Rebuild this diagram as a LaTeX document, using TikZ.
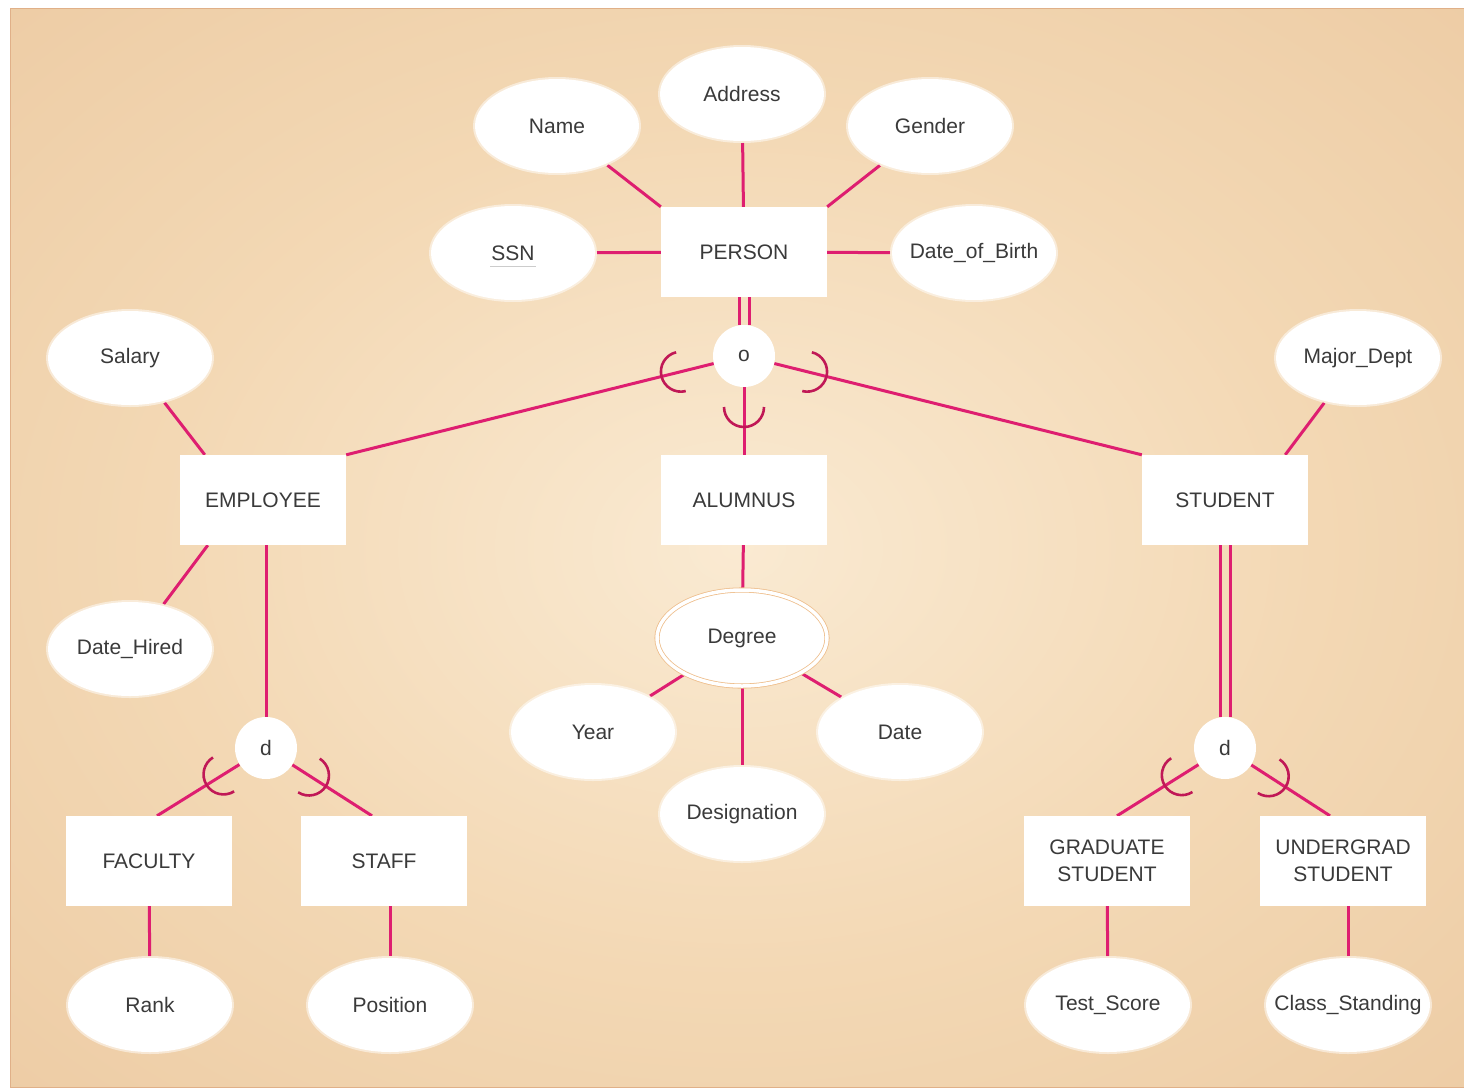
\documentclass[tikz,border=0pt]{standalone}
\usepackage{fontspec}
\setmainfont{Liberation Sans}
\usetikzlibrary{calc,shapes.geometric}

\definecolor{linkpink}{RGB}{222,30,112}
\definecolor{arcred}{RGB}{192,24,86}
\definecolor{inkgray}{RGB}{58,58,58}
\definecolor{bgcenter}{RGB}{250,234,210}
\definecolor{bgmid}{RGB}{243,216,180}
\definecolor{bgedge}{RGB}{232,194,152}
\definecolor{panelrim}{RGB}{224,176,136}
\definecolor{degline}{RGB}{238,190,140}

\pgfdeclareradialshading{panelshade}{\pgfpoint{0bp}{0bp}}{%
  color(0bp)=(bgcenter); color(20bp)=(bgmid); color(50bp)=(bgedge); color(60bp)=(bgedge)}

\pgfdeclarelayer{panel}
\pgfdeclarelayer{links}
\pgfsetlayers{panel,links,main}

\tikzset{
  entity/.style={rectangle, fill=white, minimum width=166pt, minimum height=90pt,
    inner sep=0pt, text=inkgray, align=center},
  % attribute ovals keep a fixed size, long names may reach the rim
  attr/.style={ellipse, fill=white, draw=white, draw opacity=0.5, line width=4pt,
    minimum width=164pt, minimum height=94pt, inner sep=0pt, text=inkgray,
    execute at begin node={\hbox to 0pt\bgroup\hss},
    execute at end node={\hss\egroup}},
  multiattr/.style={ellipse, fill=white, draw=degline, line width=0.8pt,
    double=white, double distance=3.5pt, minimum width=170pt, minimum height=96pt,
    inner sep=0pt, text=inkgray,
    execute at begin node={\hbox to 0pt\bgroup\hss},
    execute at end node={\hss\egroup}},
  junction/.style={circle, fill=white, minimum size=62pt, inner sep=0pt, text=inkgray},
  conn/.style={draw=linkpink, line width=3pt},
  subarc/.style={draw=arcred, line width=2.6pt},
  keyline/.style={draw=gray!40, line width=0.7pt},
}

% subset half-circle on a link: junction, far end of the link, distance from junction centre
\newcommand\subsetmark[3]{%
  \draw[subarc] let \p1=($(#2)-(#1)$), \n1={atan2(\y1,\x1)} in
    ($(#1)!#3!(#2)$) ++(\n1+90:20pt) arc[start angle=\n1+90, end angle=\n1-90, radius=20pt];}

\begin{document}
\begin{tikzpicture}[x=1pt, y=-1pt, font=\fontsize{21}{27}\selectfont]
\useasboundingbox (0,0) rectangle (1464,1090);

% backdrop
\begin{pgfonlayer}{panel}
  \fill[white] (0,0) rectangle (1464,1090);
  \shade[shading=panelshade, draw=panelrim, line width=1pt] (10,8) rectangle (1464,1087);
\end{pgfonlayer}

% PERSON and its attributes
\node[entity] (person) at (744,252) {PERSON};
\node[attr] (name) at (557,126) {Name};
\node[attr] (address) at (742,94) {Address};
\node[attr] (gender) at (930,126) {Gender};
\node[attr] (ssn) at (513,253) {SSN};
\node[attr] (dob) at (974,253) {Date\_of\_Birth};
\draw[keyline] ([xshift=-23pt,yshift=-13pt]ssn.center) -- ([xshift=23pt,yshift=-13pt]ssn.center);

% overlapping specialization
\node[junction] (o) at (744,356) {o};

\node[entity] (employee) at (263,500) {EMPLOYEE};
\node[entity] (alumnus) at (744,500) {ALUMNUS};
\node[entity] (student) at (1225,500) {STUDENT};

\node[attr] (salary) at (130,358) {Salary};
\node[attr] (major) at (1358,358) {Major\_Dept};
\node[attr] (hired) at (130,649) {Date\_Hired};

% multivalued composite attribute
\node[multiattr] (degree) at (742,638) {Degree};
\node[attr] (year) at (593,732) {Year};
\node[attr] (date) at (900,732) {Date};
\node[attr] (designation) at (742,814) {Designation};

% disjoint specializations
\node[junction] (dl) at (266,748) {d};
\node[junction] (dr) at (1225,748) {d};

\node[entity] (faculty) at (149,861) {FACULTY};
\node[entity] (staff) at (384,861) {STAFF};
\node[entity] (grad) at (1107,861) {GRADUATE\\STUDENT};
\node[entity] (ugrad) at (1343,861) {UNDERGRAD\\STUDENT};

\node[attr] (rank) at (150,1005) {Rank};
\node[attr] (position) at (390,1005) {Position};
\node[attr] (test) at (1108,1005) {Test\_Score};
\node[attr] (class) at (1348,1005) {Class\_Standing};

% link end points on entity edges
\coordinate (salaryin) at ([xshift=25pt]employee.north west);
\coordinate (hiredin) at ([xshift=28pt]employee.south west);
\coordinate (majorin) at ([xshift=-23pt]student.north east);
\coordinate (facin) at ([xshift=8pt]faculty.north);
\coordinate (staffin) at ([xshift=-12pt]staff.north);
\coordinate (gradin) at ([xshift=10pt]grad.north);
\coordinate (ugradin) at ([xshift=-13pt]ugrad.north);

\begin{pgfonlayer}{links}
  \draw[conn] (name) -- (person.north west);
  \draw[conn] (address) -- (person);
  \draw[conn] (gender) -- (person.north east);
  \draw[conn] (ssn) -- (person);
  \draw[conn] (dob) -- (person);

  \draw[conn] ([xshift=-5pt]person.south) -- ([xshift=-5pt]o.north);
  \draw[conn] ([xshift=5pt]person.south) -- ([xshift=5pt]o.north);
  \draw[conn] (o) -- (employee.north east);
  \draw[conn] (o) -- (alumnus);
  \draw[conn] (o) -- (student.north west);

  \draw[conn] (salary) -- (salaryin);
  \draw[conn] (hired) -- (hiredin);
  \draw[conn] (major) -- (majorin);

  \draw[conn] (alumnus) -- (degree);
  \draw[conn] (degree) -- (year);
  \draw[conn] (degree) -- (date);
  \draw[conn] (degree) -- (designation);

  \draw[conn] (employee.south -| dl) -- (dl);
  \draw[conn] ([xshift=-5pt]student.south) -- ([xshift=-5pt]dr.north);
  \draw[conn] ([xshift=5pt]student.south) -- ([xshift=5pt]dr.north);

  \draw[conn] (dl) -- (facin);
  \draw[conn] (dl) -- (staffin);
  \draw[conn] (dr) -- (gradin);
  \draw[conn] (dr) -- (ugradin);

  \draw[conn] (faculty) -- (rank);
  \draw[conn] (position.north |- staff.south) -- (position);
  \draw[conn] (grad) -- (test);
  \draw[conn] (class.north |- ugrad.south) -- (class);

  % subset marks
  \subsetmark{o}{employee.north east}{65pt}
  \subsetmark{o}{student.north west}{65pt}
  \subsetmark{o}{alumnus}{51pt}
  \subsetmark{dl}{facin}{50pt}
  \subsetmark{dl}{staffin}{51pt}
  \subsetmark{dr}{gradin}{51pt}
  \subsetmark{dr}{ugradin}{52pt}
\end{pgfonlayer}
\end{tikzpicture}
\end{document}
